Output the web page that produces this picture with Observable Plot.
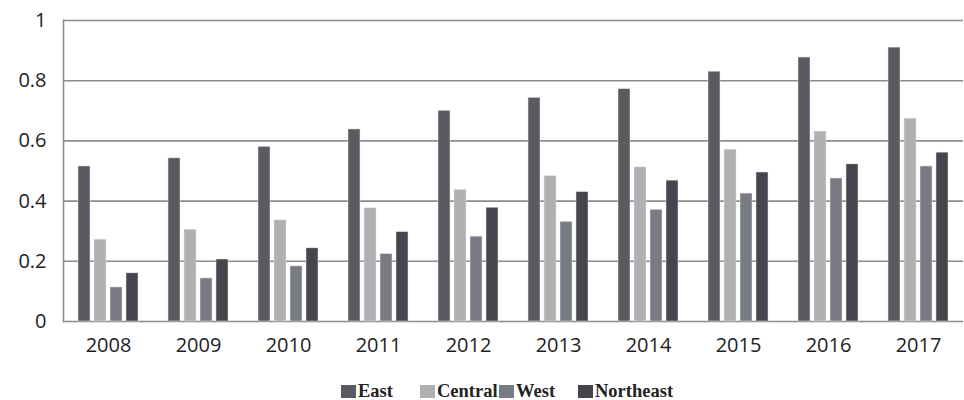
<!DOCTYPE html>
<html>
<head>
<meta charset="utf-8">
<script src="https://cdn.jsdelivr.net/npm/d3@7"></script>
<script src="https://cdn.jsdelivr.net/npm/@observablehq/plot@0.6"></script>
<style>
  html, body { margin: 0; padding: 0; background: #fff; }
  #chart { width: 964px; }
  .legend { position: relative; height: 35px; font-family: "Liberation Serif", "Times New Roman", serif; font-weight: bold; font-size: 18.5px; line-height: 20px; color: #222; }
  .legend .items { position: absolute; left: 341px; top: 16px; display: flex; }
  .legend .item { width: 79px; height: 20px; display: flex; align-items: center; white-space: nowrap; overflow: visible; }
  .legend .sw { width: 15px; height: 13px; margin-right: 2px; flex: none; }
</style>
</head>
<body>
<div id="chart"></div>
<script>
const years = ["2008","2009","2010","2011","2012","2013","2014","2015","2016","2017"];
const series = ["East","Central","West","Northeast"];
const east      = [0.515,0.542,0.580,0.638,0.700,0.743,0.772,0.830,0.877,0.910];
const central   = [0.272,0.305,0.336,0.376,0.437,0.483,0.512,0.571,0.631,0.674];
const west      = [0.113,0.143,0.183,0.224,0.282,0.331,0.371,0.425,0.475,0.515];
const northeast = [0.160,0.206,0.243,0.297,0.378,0.430,0.468,0.495,0.522,0.561];
const colors = ["#5a5b61","#b0b0b2","#797b84","#44454d"];
const yTicks = [0,0.2,0.4,0.6,0.8,1];
const yTickLabels = ["0","0.2","0.4","0.6","0.8","1"];

const valuesBySeries = [east, central, west, northeast];
const data = [];
years.forEach((yr, i) => {
  series.forEach((s, j) => data.push({year: yr, series: s, value: valuesBySeries[j][i]}));
});

const gridColor = "#8c8c8c";

const chart = Plot.plot({
  width: 964,
  height: 365,
  marginLeft: 62,
  marginRight: 0,
  marginTop: 20,
  marginBottom: 44,
  style: {fontFamily: "'Open Sans', sans-serif", fontSize: "20px", color: "#222", background: "#fff"},
  fx: {domain: years, paddingInner: 0, paddingOuter: 0, label: null},
  x: {domain: series, paddingInner: 0.25, paddingOuter: 0, insetLeft: 14, insetRight: 14, axis: null},
  y: {domain: [0, 1], label: null},
  color: {domain: series, range: colors},
  marks: [
    Plot.ruleY(yTicks, {stroke: gridColor, strokeWidth: 1.6}),
    Plot.frame({anchor: "left", facetAnchor: "left", stroke: gridColor, strokeWidth: 1.6}),
    Plot.barY(data, {fx: "year", x: "series", y: "value", fill: "series", stroke: "#e6e6e6", strokeWidth: 0.5}),
    Plot.axisY({ticks: yTicks, tickFormat: (d, i) => yTickLabels[i], tickSize: 0, tickPadding: 17, fontSize: 20, label: null}),
    Plot.axisFx({anchor: "bottom", tickSize: 0, tickPadding: 16, fontSize: 20, label: null})
  ]
});
document.getElementById("chart").appendChild(chart);

const legend = document.createElement("div");
legend.className = "legend";
const items = document.createElement("div");
items.className = "items";
series.forEach((s, j) => {
  const it = document.createElement("div");
  it.className = "item";
  const sw = document.createElement("span");
  sw.className = "sw";
  sw.style.background = colors[j];
  const tx = document.createElement("span");
  tx.textContent = s;
  it.appendChild(sw); it.appendChild(tx);
  items.appendChild(it);
});
legend.appendChild(items);
document.getElementById("chart").appendChild(legend);
</script>
</body>
</html>
